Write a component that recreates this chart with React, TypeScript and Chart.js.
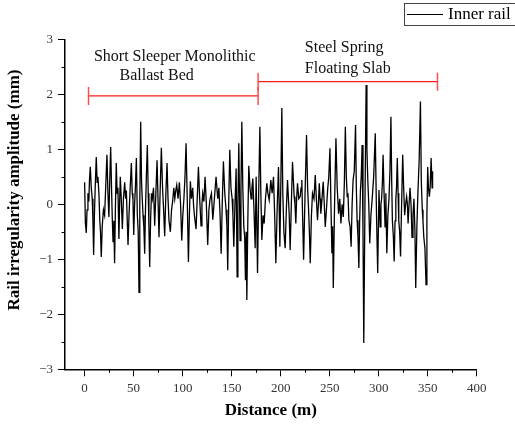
import React, { useEffect, useRef } from "react";
import { Chart, registerables } from "chart.js";

Chart.register(...registerables);

// [distance (m), amplitude (mm)]
const innerRailSamples: [number, number][] = [
  [0, 0.4], [0.8, -0.34], [1.7, -0.52], [2.5, -0.1], [3.4, 0.2], [4.3, 0.05], [5, 0.45], [5.8, 0.68], [6.8, 0.3], [7.8, 0.1],
  [8.5, -0.3], [9.2, -0.92], [10, -0.2], [10.8, 0.3], [11.9, 0.86], [12.8, 0.4], [13.6, 0.5], [14.6, 0.2], [15.5, -0.3], [16.2, -0.5],
  [17, -0.96], [18, -0.4], [19.2, -0.1], [20.4, -0.2], [21.5, 0.3], [22.8, 0.9], [23.8, 0.2], [24.8, -0.23], [25.6, 0.4], [26.6, 1.04],
  [27.6, 0.2], [28.3, -0.3], [29, -0.68], [29.8, -0.3], [30.6, -1.07], [31.4, -0.1], [32.3, 0.75], [33.2, 0.2], [34, 0.3], [35, -0.63],
  [35.7, 0], [36.4, 0.5], [37.4, 0.1], [38.5, -0.45], [39.6, 0.1], [40.9, 0.4], [41.8, 0.1], [42.6, 0.25], [43.5, -0.3], [44.3, -0.74],
  [45.3, -0.2], [46.5, 0.3], [47.7, 0.75], [48.6, 0.2], [49.3, 0.1], [50.1, -0.56], [51, 0], [51.8, 0.3], [52.8, 0.84], [53.8, -0.2],
  [54.7, -0.5], [55.5, -1.6], [56.3, 0], [57.2, 1.5], [58.1, 0.4], [58.8, 0.1], [59.6, -0.2], [60.4, -0.4], [61.3, -0.9], [62.1, -0.1],
  [63, 0.5], [64, 1.08], [64.9, 0.2], [65.6, -0.4], [66.4, -1.14], [67.3, -0.3], [68.2, 0.2], [69.1, 0.1], [70.3, 0.3], [71.5, -0.39],
  [72.7, 0.2], [73.9, 0.8], [74.9, 0.1], [75.9, -0.6], [77, 0.2], [78.3, 1.03], [79.5, 0.3], [80.6, -0.1], [81.7, -0.58], [82.9, 0.2],
  [84.1, 0.75], [85.1, 0.1], [86.1, -0.3], [87.5, -0.5], [88.7, -0.1], [89.9, 0.07], [91, 0.3], [92, 0.1], [93, 0.25], [94, 0.35],
  [95.3, 0.1], [96.7, 0.4], [97.9, 0], [99.1, -0.66], [100.2, -0.2], [101.3, 0.1], [102.4, 0.5], [103.5, 1.11], [104.7, 0.1], [105.9, -1.05],
  [106.9, -0.2], [107.9, 0.42], [109, 0.1], [110.3, 0.3], [111.1, 0], [112, -0.2], [113.7, -0.45], [114.9, 0.1], [116.1, 0.68], [117.4, 0.1],
  [118.8, -0.39], [119.7, 0], [120.5, 0.2], [121.7, 0.05], [122.9, 0.5], [124.2, 0], [125.6, -0.74], [126.8, -0.1], [128, 0.1], [129.4, 0.2],
  [130.8, -0.28], [132.4, 0.1], [134.1, 0.5], [135.8, 0.1], [137, 0.3], [138.2, -0.2], [139.3, -0.9], [140.4, 0], [141.6, 0.78], [143, 0.2],
  [144.3, -0.1], [145.2, -0.4], [146, -1.2], [147, 0], [148.1, 0.99], [149.3, 0.3], [150.5, 0.1], [151.3, -0.2], [152.2, -0.77], [153.4, 0],
  [154.6, 0.65], [155.6, -1.32], [156.4, 0], [157.3, 1.11], [158.6, -0.66], [159.5, 0.3], [160.4, 1.5], [161.4, 0.3], [162.4, -0.4], [163.3, -0.6],
  [164.1, -1.38], [164.8, -0.5], [165.5, -1.74], [166.5, -0.3], [167.5, 0.7], [168.7, 0.3], [169.9, 0.1], [170.7, 0.3], [171.6, 0.47], [172.8, -0.1],
  [174, -0.8], [175, 0.5], [176.4, -1.25], [177.6, 0.2], [178.8, 1.41], [179.8, 0.2], [180.8, -0.65], [182, -0.2], [183.2, -0.35], [184.5, 0.1],
  [185.9, 0.38], [187, 0.2], [188.3, 0.08], [190, 0.44], [191.3, 0.2], [192.7, 0.5], [193.9, -0.2], [195.1, -1.07], [196.4, -0.1], [197.8, 0.68],
  [199.2, -0.77], [200.2, 0.4], [201.2, 1.75], [202.2, 0.2], [203.3, -0.5], [204.6, -0.8], [205.8, -0.1], [207, 0.44], [208.7, -0.17], [209.7, -0.83],
  [210.9, 0], [212.1, 0.77], [213.8, 0.14], [214.6, 0], [215.5, -0.35], [216.3, 0.1], [217.2, 0.38], [218.5, 0.1], [219.9, 0.14], [220.8, 0.3],
  [221.6, 0.44], [222.5, -0.3], [223.4, -1.01], [224.9, 0.2], [226.4, 1.26], [227.5, 0.3], [228.5, -0.1], [229.3, -0.5], [230.2, -1.07], [231.4, -0.2],
  [232.5, 0.2], [234, 0.1], [235.3, 0.53], [236.4, 0.1], [237.6, -0.29], [238.5, 0], [239.4, 0.38], [240.2, 0.1], [241, -0.17], [242.2, 0.1],
  [243.4, 0.41], [244.5, 0], [245.5, -0.41], [246.7, -0.1], [247.9, 0.26], [249.1, 0.5], [250.3, 1.02], [251.3, 0], [252.3, -0.89], [253, -0.4],
  [253.7, -1.52], [255, 0], [256.4, 1.2], [257.7, 0.3], [259.1, -0.17], [260.3, 0.1], [261.5, -0.35], [262.7, 0], [263.9, -0.23], [265, 0.4],
  [266, 1.41], [267, 0.5], [267.9, 0.14], [268.7, 0.2], [269.6, -0.29], [270.8, -0.4], [271.9, -0.77], [272.9, 0], [273.9, 0.44], [275.1, 0.6],
  [276.4, 1.44], [277.2, 0.3], [278, -0.29], [278.9, -0.6], [279.8, -1.16], [280.6, -0.3], [281.4, 0.26], [282.2, 0.5], [283.1, 1.08], [284, -0.5],
  [284.8, -2.52], [286, 0], [287.2, 2.17], [288, 1], [288.9, 0.44], [289.9, 0], [290.9, -0.71], [292.1, -0.2], [293.3, 0.08], [294.9, 0.5],
  [296.5, 1.29], [297.8, -0.2], [299, -1.25], [300.3, 0.26], [301.5, -0.41], [302.3, 0], [303, 0.1], [303.8, 0.4], [304.5, 0.9], [305.5, 0.2],
  [306.5, -0.41], [307.3, 0.2], [308.3, -0.89], [309.4, -0.2], [310.5, 0.1], [311.5, 0.6], [312.5, 1.59], [313.3, 0.4], [314, -0.3], [315, -0.6],
  [315.8, -1.04], [316.7, -0.3], [317.5, 0.1], [318.2, 0.3], [319, 0.84], [319.8, 0.2], [320.5, -0.3], [321.4, -0.5], [322.3, -0.95], [323.4, 0],
  [324.5, 0.9], [325.5, 0.3], [326.5, -0.2], [327.5, 0], [328.5, 0.14], [329.3, 0], [330, -0.35], [331, 0], [332, 0.3], [333, 0],
  [334, -0.6], [335, -0.2], [336, 0.1], [337, -0.5], [337.8, -1.52], [339, -0.4], [340, 0.2], [341.3, 0.8], [342.6, 1.87], [343.5, 0.4],
  [344.5, -0.1], [345.2, -0.3], [346, -0.59], [347.2, -0.8], [348.3, -1.46], [349.2, -0.2], [350, 0.68], [350.8, 0.3], [351.7, 0.14], [352.5, 0.3],
  [353.5, 0.84], [354.5, 0.3], [355, 0.6],
];

const xTickValues = [0, 50, 100, 150, 200, 250, 300, 350, 400];
const yTickValues = [-3, -2, -1, 0, 1, 2, 3];
const xMinorTicks = [25, 75, 125, 175, 225, 275, 325, 375];
const yMinorTicks = [-2.5, -1.5, -0.5, 0.5, 1.5, 2.5];

const bracketBallast = [
  { x: 4, y: 1.97 },
  { x: 177, y: 1.97 },
];
const bracketFloating = [
  { x: 177, y: 2.23 },
  { x: 360, y: 2.23 },
];

const annotations = [
  { text: "Short Sleeper Monolithic", x: 92, y: 2.68, align: "center" },
  { text: "Ballast Bed", x: 73.5, y: 2.33, align: "center" },
  { text: "Steel Spring", x: 224.7, y: 2.84, align: "left" },
  { text: "Floating Slab", x: 224.7, y: 2.47, align: "left" },
];

const seriesName = "Inner rail";
const xTitle = "Distance (m)";
const yTitle = "Rail irregularity amplitude (mm)";

const SERIF = "'Liberation Serif', 'Times New Roman', serif";

const fmt = (v: number) => (v < 0 ? "\u2212" + Math.abs(v) : String(v));

const decorPlugin = {
  id: "decor",
  afterDraw(chart: any) {
    const ctx = chart.ctx;
    const xs = chart.scales.x;
    const ys = chart.scales.y;
    const area = chart.chartArea;
    ctx.save();
    ctx.strokeStyle = "#000";
    ctx.lineWidth = 1;
    ctx.beginPath();
    xMinorTicks.forEach((v) => {
      const px = Math.round(xs.getPixelForValue(v)) + 0.5;
      ctx.moveTo(px, area.bottom);
      ctx.lineTo(px, area.bottom + 3.5);
    });
    yMinorTicks.forEach((v) => {
      const py = Math.round(ys.getPixelForValue(v)) + 0.5;
      ctx.moveTo(area.left - 3.5, py);
      ctx.lineTo(area.left, py);
    });
    ctx.stroke();

    ctx.fillStyle = "#111";
    ctx.font = "16px " + SERIF;
    ctx.textBaseline = "middle";
    annotations.forEach((a) => {
      ctx.textAlign = a.align as CanvasTextAlign;
      ctx.fillText(a.text, xs.getPixelForValue(a.x), ys.getPixelForValue(a.y));
    });

    ctx.fillStyle = "#000";
    ctx.font = "bold 17px " + SERIF;
    ctx.textAlign = "center";
    ctx.fillText(xTitle, (area.left + area.right) / 2, 411);
    ctx.save();
    ctx.translate(15, 190);
    ctx.rotate(-Math.PI / 2);
    ctx.fillText(yTitle, 0, 0);
    ctx.restore();

    ctx.strokeStyle = "#444";
    ctx.lineWidth = 1;
    ctx.strokeRect(404.5, 3.5, 130, 22);
    ctx.strokeStyle = "#000";
    ctx.beginPath();
    ctx.moveTo(407, 14.5);
    ctx.lineTo(443, 14.5);
    ctx.stroke();
    ctx.font = "17px " + SERIF;
    ctx.textAlign = "left";
    ctx.fillText(seriesName, 448, 15);
    ctx.restore();
  },
};

export default function App() {
  const ref = useRef<HTMLCanvasElement | null>(null);
  useEffect(() => {
    if (!ref.current) return;
    const chart = new Chart(ref.current, {
      type: "line",
      data: {
        datasets: [
          {
            label: seriesName,
            data: innerRailSamples.map(([x, y]) => ({ x, y })),
            borderColor: "#000",
            borderWidth: 1.3,
            pointRadius: 0,
            tension: 0,
            order: 2,
          },
          {
            label: "ballast",
            data: bracketBallast,
            borderColor: "#ff1a1a",
            borderWidth: 1.2,
            pointStyle: "line",
            pointRotation: 90,
            pointRadius: 9,
            pointBorderWidth: 1.5,
            pointBorderColor: "#ff4d4d",
            order: 1,
          },
          {
            label: "floating",
            data: bracketFloating,
            borderColor: "#ff1a1a",
            borderWidth: 1.2,
            pointStyle: "line",
            pointRotation: 90,
            pointRadius: 9,
            pointBorderWidth: 1.5,
            pointBorderColor: "#ff4d4d",
            order: 1,
          },
        ],
      },
      options: {
        animation: false,
        responsive: false,
        maintainAspectRatio: false,
        layout: { padding: { left: 0, top: 39.3, right: 38.3, bottom: 0 } },
        plugins: { legend: { display: false }, tooltip: { enabled: false } },
        scales: {
          x: {
            type: "linear",
            min: -20,
            max: 400,
            afterBuildTicks: (s: any) => {
              s.ticks = xTickValues.map((v) => ({ value: v }));
            },
            afterFit: (s: any) => {
              s.height = 54.7;
            },
            grid: { drawOnChartArea: false, tickLength: 7, color: "#000", tickWidth: 1 },
            border: { color: "#000", width: 1.5 },
            ticks: {
              maxRotation: 0,
              autoSkip: false,
              padding: 4,
              color: "#333",
              font: { family: SERIF, size: 13 },
              callback: (v: any) => fmt(Number(v)),
            },
          },
          y: {
            type: "linear",
            min: -3,
            max: 3,
            afterBuildTicks: (s: any) => {
              s.ticks = yTickValues.map((v) => ({ value: v }));
            },
            afterFit: (s: any) => {
              s.width = 65;
            },
            grid: { drawOnChartArea: false, tickLength: 7, color: "#000", tickWidth: 1 },
            border: { color: "#000", width: 1.5 },
            ticks: {
              padding: 5,
              color: "#333",
              font: { family: SERIF, size: 13 },
              callback: (v: any) => fmt(Number(v)),
            },
          },
        },
      },
      plugins: [decorPlugin],
    });
    return () => chart.destroy();
  }, []);
  return (
    <div style={{ position: "fixed", left: 0, top: 0, width: 515, height: 424, background: "#fff" }}>
      <canvas ref={ref} width={515} height={424} style={{ width: 515, height: 424 }} />
    </div>
  );
}
